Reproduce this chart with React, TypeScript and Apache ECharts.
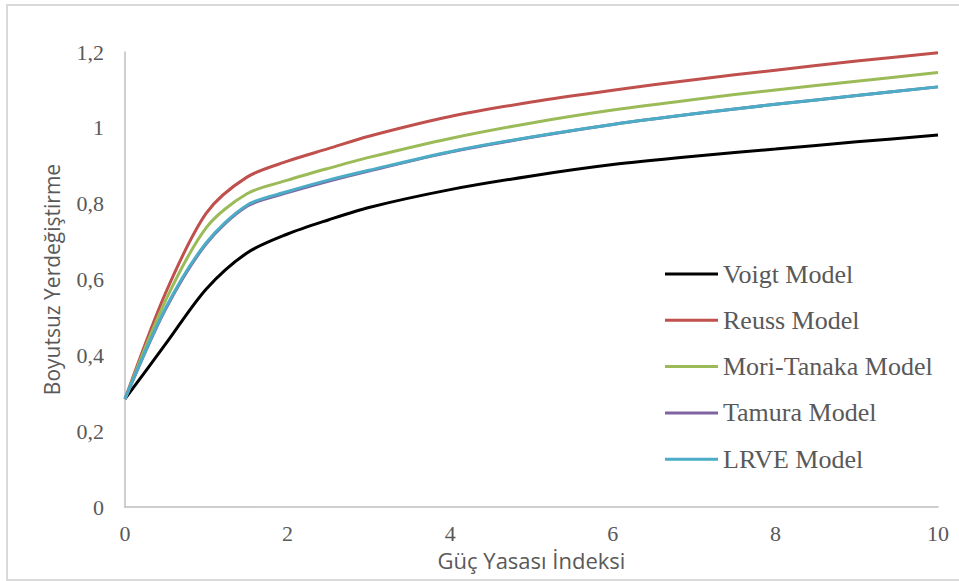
import React, { useEffect, useRef } from "react";
import * as echarts from "echarts";

const xValues = [0, 0.5, 1, 1.5, 2, 2.5, 3, 4, 5, 6, 7, 8, 9, 10];
const voigt = [0.285, 0.43, 0.575, 0.67, 0.72, 0.757, 0.79, 0.837, 0.873, 0.903, 0.925, 0.944, 0.963, 0.981];
const reuss = [0.285, 0.565, 0.775, 0.87, 0.912, 0.945, 0.978, 1.03, 1.068, 1.099, 1.127, 1.152, 1.176, 1.198];
const moriTanaka = [0.285, 0.545, 0.737, 0.826, 0.862, 0.893, 0.922, 0.972, 1.013, 1.047, 1.075, 1.1, 1.123, 1.146];
const tamura = [0.285, 0.522, 0.694, 0.793, 0.829, 0.859, 0.886, 0.936, 0.975, 1.009, 1.037, 1.062, 1.085, 1.108];
const lrve = [0.285, 0.525, 0.697, 0.796, 0.832, 0.862, 0.888, 0.937, 0.976, 1.009, 1.037, 1.062, 1.085, 1.108];

const seriesNames = ["Voigt Model", "Reuss Model", "Mori-Tanaka Model", "Tamura Model", "LRVE Model"];
const seriesColors = ["#000000", "#C0504D", "#9BBB59", "#8064A2", "#4BACC6"];
const seriesValues = [voigt, reuss, moriTanaka, tamura, lrve];

const xTitle = "Güç Yasası İndeksi";
const yTitle = "Boyutsuz Yerdeğiştirme";

export default function App() {
  const ref = useRef<HTMLDivElement>(null);
  useEffect(() => {
    if (!ref.current) return;
    const chart = echarts.init(ref.current, undefined, { renderer: "svg" });
    const fmt = (v: number) => String(Math.round(v * 10) / 10).replace(".", ",");
    chart.setOption({
      animation: false,
      backgroundColor: "#ffffff",
      grid: { left: 125, right: 21, top: 52, bottom: 74, containLabel: false },
      graphic: [
        {
          type: "rect",
          shape: { x: 7, y: 5, width: 970, height: 575 },
          style: { fill: "none", stroke: "#d9d9d9", lineWidth: 2 },
          silent: true,
          z: -10,
        },
      ],
      legend: {
        orient: "vertical",
        left: 660,
        top: 254,
        icon: "rect",
        itemWidth: 53,
        itemHeight: 3,
        itemGap: 16.3,
        data: seriesNames,
        textStyle: {
          fontFamily: "'Liberation Serif', 'Times New Roman', serif",
          fontSize: 26,
          color: "#595959",
          lineHeight: 30,
        },
      },
      xAxis: {
        type: "value",
        min: 0,
        max: 10,
        interval: 2,
        name: xTitle,
        nameLocation: "middle",
        nameGap: 42,
        nameTextStyle: { fontFamily: "'Open Sans', sans-serif", fontSize: 22, color: "#595959" },
        axisLine: { show: true, lineStyle: { color: "#bfbfbf", width: 1.5 } },
        axisTick: { show: false },
        splitLine: { show: false },
        axisLabel: {
          margin: 15,
          fontFamily: "'Liberation Serif', 'Times New Roman', serif",
          fontSize: 22,
          color: "#595959",
          formatter: fmt,
        },
      },
      yAxis: {
        type: "value",
        min: 0,
        max: 1.2,
        interval: 0.2,
        name: yTitle,
        nameLocation: "middle",
        nameGap: 63,
        nameRotate: 90,
        nameTextStyle: { fontFamily: "'Open Sans', sans-serif", fontSize: 21, color: "#595959" },
        axisLine: { show: true, lineStyle: { color: "#bfbfbf", width: 1.5 } },
        axisTick: { show: false },
        splitLine: { show: false },
        axisLabel: {
          margin: 21,
          fontFamily: "'Liberation Serif', 'Times New Roman', serif",
          fontSize: 22,
          color: "#595959",
          formatter: fmt,
        },
      },
      series: seriesNames.map((name, i) => ({
        name,
        type: "line",
        smooth: 0.3,
        showSymbol: false,
        symbol: "none",
        color: seriesColors[i],
        lineStyle: { color: seriesColors[i], width: 3 },
        data: xValues.map((x, j) => [x, seriesValues[i][j]]),
        z: 2 + i,
      })),
    });
    return () => chart.dispose();
  }, []);
  return (
    <div
      ref={ref}
      style={{ position: "absolute", left: 0, top: 0, width: 959, height: 581, background: "#fff" }}
    />
  );
}
